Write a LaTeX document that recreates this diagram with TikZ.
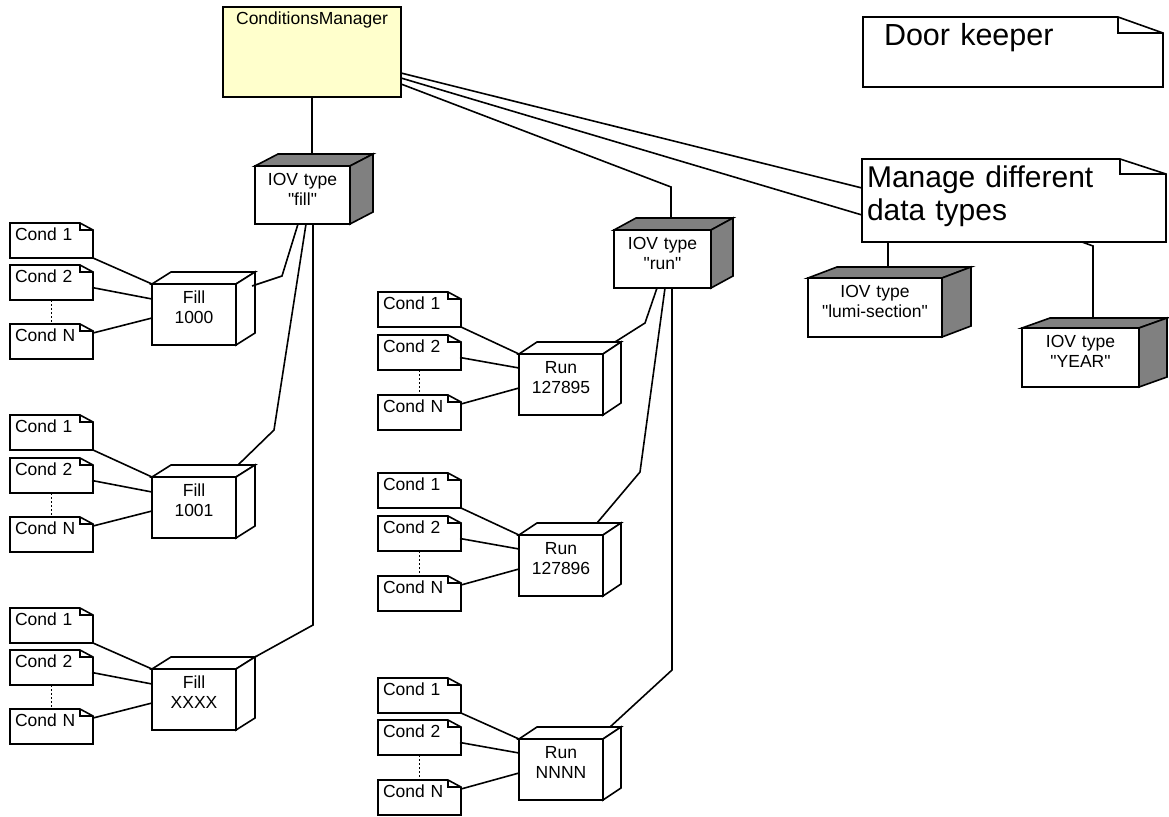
\documentclass[tikz,border=0pt]{standalone}
\usepackage{fontspec}
\setmainfont{Liberation Sans}[Ligatures=TeXOff]
\definecolor{cmyellow}{RGB}{255,255,204}
\definecolor{cubegrey}{RGB}{128,128,128}

\tikzset{
  box/.style={draw, line width=1.6pt, inner sep=0pt, outer sep=0pt, anchor=north west, align=center,
    font=\fontsize{17.5}{20.5}\selectfont, text height=19pt},
  cube/.style 2 args={box, fill=white, text width=#1, text depth=#2},
  note/.style 2 args={anchor=north west, inner ysep=0pt, inner xsep=#1, outer sep=0pt, text width=#2, align=left},
  cond/.style={note={5pt}{73pt}, font=\fontsize{17.5}{20}\selectfont, text height=17pt, text depth=18pt},
  wire/.style={line width=1.6pt},
  dots/.style={line width=0.8pt, dash pattern=on 2pt off 2pt}
}

% top and right face of a box node
\newcommand\cubesides[4]{%
  \draw[line width=1.6pt, fill=#4] (#1.north west) -- ++(#2,-#3) -- ([shift={(#2,-#3)}]#1.north east) -- (#1.north east) -- cycle;
  \draw[line width=1.6pt, fill=#4] (#1.north east) -- ([shift={(#2,-#3)}]#1.north east) -- ([shift={(#2,-#3)}]#1.south east) -- (#1.south east) -- cycle;
}
% note outline with a folded corner
\newcommand\dogear[3]{%
  \draw[line width=1.6pt] (#1.north west) -- ([xshift=-#2]#1.north east) -- ([yshift=-#3]#1.north east) -- (#1.south east) -- (#1.south west) -- cycle
    ([xshift=-#2]#1.north east) |- ([yshift=-#3]#1.north east);
}
\newcommand\condnote[3]{%
  \node[cond] (#1) at (#2) {#3};
  \dogear{#1}{13pt}{7pt}
}

\begin{document}
\begin{tikzpicture}[x=1pt, y=-1pt]
\useasboundingbox (0,0) rectangle (1169,816);

% manager and notes
\node[box, fill=cmyellow, text width=178pt, text height=18pt, text depth=72pt] (cm) at (223,7) {ConditionsManager};
\node[note={21pt}{258pt}, font=\fontsize{30.5}{33}\selectfont, text height=29pt, text depth=41pt] (keeper) at (863,17) {Door keeper};
\dogear{keeper}{45pt}{16pt}
\node[note={5pt}{294pt}, font=\fontsize{30}{33}\selectfont, text height=28pt, text depth=55pt] (manage) at (862,159) {Manage different\\data types};
\dogear{manage}{46pt}{15pt}

% IOV types
\node[cube={95pt}{39pt}] (iovfill) at (255,166) {IOV type\\"fill"};
\cubesides{iovfill}{23}{12}{cubegrey}
\node[cube={97pt}{39pt}] (iovrun) at (614,230) {IOV type\\"run"};
\cubesides{iovrun}{22}{12}{cubegrey}
\node[cube={134pt}{40pt}] (iovlumi) at (808,278) {IOV type\\"lumi-section"};
\cubesides{iovlumi}{29}{11}{cubegrey}
\node[cube={117pt}{40pt}] (iovyear) at (1022,328) {IOV type\\"YEAR"};
\cubesides{iovyear}{28}{10}{cubegrey}

% fills
\node[cube={84pt}{42pt}] (fill1000) at (152,284) {Fill\\1000};
\cubesides{fill1000}{19}{12}{white}
\node[cube={84pt}{42pt}] (fill1001) at (152,477) {Fill\\1001};
\cubesides{fill1001}{19}{12}{white}
\node[cube={84pt}{42pt}] (fillxxxx) at (152,669) {Fill\\XXXX};
\cubesides{fillxxxx}{19}{12}{white}

% runs
\node[cube={84pt}{42pt}] (run127895) at (519,354) {Run\\127895};
\cubesides{run127895}{18}{12}{white}
\node[cube={84pt}{42pt}] (run127896) at (519,535) {Run\\127896};
\cubesides{run127896}{18}{12}{white}
\node[cube={84pt}{42pt}] (runnnnn) at (519,739) {Run\\NNNN};
\cubesides{runnnnn}{18}{12}{white}

% conditions of the fills
\condnote{fa1}{10,223}{Cond 1}
\condnote{fa2}{10,265}{Cond 2}
\condnote{fan}{10,324}{Cond N}
\condnote{fb1}{10,415}{Cond 1}
\condnote{fb2}{10,458}{Cond 2}
\condnote{fbn}{10,517}{Cond N}
\condnote{fc1}{10,608}{Cond 1}
\condnote{fc2}{10,650}{Cond 2}
\condnote{fcn}{10,709}{Cond N}

% conditions of the runs
\condnote{ra1}{378,292}{Cond 1}
\condnote{ra2}{378,335}{Cond 2}
\condnote{ran}{378,395}{Cond N}
\condnote{rb1}{378,473}{Cond 1}
\condnote{rb2}{378,516}{Cond 2}
\condnote{rbn}{378,576}{Cond N}
\condnote{rc1}{378,678}{Cond 1}
\condnote{rc2}{378,720}{Cond 2}
\condnote{rcn}{378,780}{Cond N}

% manager links
\draw[wire] (cm.south) -- ([shift={(57,-12)}]iovfill.north west);
\draw[wire] ([yshift=-66pt]cm.north east) -- ([yshift=-29pt]manage.north west);
\draw[wire] ([yshift=-71pt]cm.north east) -- ([yshift=-56pt]manage.north west);
\draw[wire] ([yshift=-77pt]cm.north east) -- ([shift={(57,-43)}]iovrun.north west) -- ([shift={(57,-12)}]iovrun.north west);
\draw[wire] ([xshift=26pt]manage.south west) -- ([shift={(80,-11)}]iovlumi.north west);
\draw[wire] ([xshift=220pt]manage.south west) -- ([shift={(71,-82)}]iovyear.north west) -- ([shift={(71,-10)}]iovyear.north west);

% IOV links
\draw[wire] ([xshift=-4.5pt]iovfill.south) -- ([shift={(130,-8)}]fill1000.north west) -- ([shift={(100,2)}]fill1000.north west);
\draw[wire] ([xshift=3.5pt]iovfill.south) -- ([shift={(122,-47)}]fill1001.north west) -- ([shift={(86,-12)}]fill1001.north west);
\draw[wire] ([xshift=10.5pt]iovfill.south) -- ([shift={(161,-44)}]fillxxxx.north west) -- ([shift={(103,-12)}]fillxxxx.north west);
\draw[wire] ([xshift=-5.5pt]iovrun.south) -- ([shift={(126,-31)}]run127895.north west) -- ([shift={(96,-12)}]run127895.north west);
\draw[wire] ([xshift=2.5pt]iovrun.south) -- ([shift={(121,-63)}]run127896.north west) -- ([shift={(78,-12)}]run127896.north west);
\draw[wire] ([xshift=9.5pt]iovrun.south) -- ([shift={(153,-69)}]runnnnn.north west) -- ([shift={(91,-12)}]runnnnn.north west);

% condition links
\draw[wire] (fa1.south east) -- (fill1000.north west);
\draw[wire] ([shift={(-1,5)}]fa2.east) -- ([yshift=-15pt]fill1000.north west);
\draw[wire] ([yshift=-9pt]fan.north east) -- ([yshift=-34pt]fill1000.north west);
\draw[dots] (fa2.south) -- (fan.north);
\draw[wire] (fb1.south east) -- (fill1001.north west);
\draw[wire] ([shift={(-1,5)}]fb2.east) -- ([yshift=-15pt]fill1001.north west);
\draw[wire] ([yshift=-9pt]fbn.north east) -- ([yshift=-34pt]fill1001.north west);
\draw[dots] (fb2.south) -- (fbn.north);
\draw[wire] (fc1.south east) -- (fillxxxx.north west);
\draw[wire] ([shift={(-1,5)}]fc2.east) -- ([yshift=-15pt]fillxxxx.north west);
\draw[wire] ([yshift=-9pt]fcn.north east) -- ([yshift=-34pt]fillxxxx.north west);
\draw[dots] (fc2.south) -- (fcn.north);

\draw[wire] (ra1.south east) -- (run127895.north west);
\draw[wire] ([shift={(-1,5)}]ra2.east) -- ([yshift=-14pt]run127895.north west);
\draw[wire] ([yshift=-9pt]ran.north east) -- ([yshift=-34pt]run127895.north west);
\draw[dots] (ra2.south) -- (ran.north);
\draw[wire] (rb1.south east) -- (run127896.north west);
\draw[wire] ([shift={(-1,5)}]rb2.east) -- ([yshift=-14pt]run127896.north west);
\draw[wire] ([yshift=-9pt]rbn.north east) -- ([yshift=-34pt]run127896.north west);
\draw[dots] (rb2.south) -- (rbn.north);
\draw[wire] (rc1.south east) -- (runnnnn.north west);
\draw[wire] ([shift={(-1,5)}]rc2.east) -- ([yshift=-14pt]runnnnn.north west);
\draw[wire] ([yshift=-9pt]rcn.north east) -- ([yshift=-34pt]runnnnn.north west);
\draw[dots] (rc2.south) -- (rcn.north);
\end{tikzpicture}
\end{document}
